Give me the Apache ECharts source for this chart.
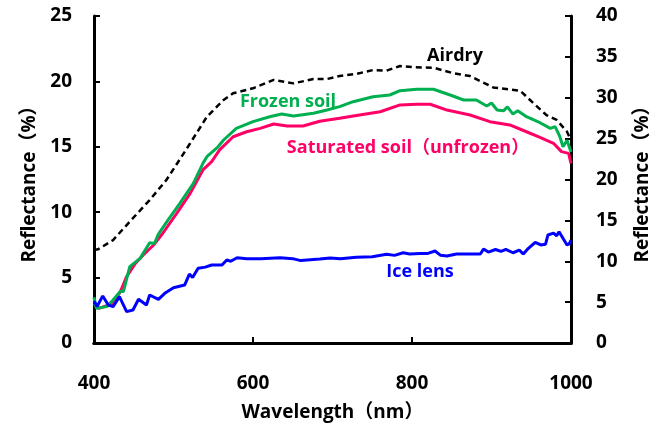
<!DOCTYPE html>
<html><head><meta charset="utf-8">
<script src="https://cdn.jsdelivr.net/npm/echarts@6/dist/echarts.min.js"></script>
<style>html,body{margin:0;padding:0;background:#fff}#c{width:662px;height:423px}</style>
</head><body><div id="c"></div>
<script>
// Wavelength (nm) / reflectance (%)
const airdryWl  = [400,405,424,445,470,491,506,521,542,563,575,600,626,651,676,693,709,730,751,768,785,802,827,852,873,902,936,953,969,982,995,1000];
const airdryVal = [7.1,7.16,7.87,9.28,10.93,12.46,13.86,15.27,17.3,18.58,19.09,19.47,20.11,19.85,20.18,20.18,20.41,20.57,20.87,20.82,21.18,21.08,21.05,20.62,20.41,19.54,19.29,18.32,17.43,17.05,16.15,15.5];

const frozenWl  = [400,403,416,424,433,437,445,458,470,476,481,493,508,525,537,542,556,563,579,600,621,636,651,676,693,709,726,751,772,785,806,827,848,865,881,894,900,907,915,920,927,933,944,961,974,980,986,990,995,1000];
const frozenVal = [3.5,2.65,2.78,3.29,3.93,3.93,5.84,6.47,7.67,7.6,8.33,9.4,10.68,12.21,13.74,14.24,15.0,15.52,16.41,16.92,17.3,17.51,17.35,17.56,17.81,18.07,18.45,18.83,18.96,19.29,19.4,19.4,18.96,18.58,18.58,18.12,18.35,17.81,17.75,18.05,17.5,17.75,17.3,16.84,16.41,16.55,15.77,15.0,15.5,14.6];

const saturatedWl  = [400,406,424,433,441,452,462,475,487,504,521,537,548,558,575,592,609,626,643,663,684,709,734,760,785,806,823,844,873,898,923,944,961,978,988,997,1000];
const saturatedVal = [3.0,2.65,3.03,3.9,5.07,6.09,6.73,7.49,8.43,9.91,11.44,13.23,13.86,14.76,15.77,16.15,16.41,16.74,16.59,16.59,16.95,17.18,17.43,17.68,18.2,18.25,18.25,17.81,17.43,16.92,16.67,16.15,15.72,15.27,14.63,14.5,13.74];

const iceWl  = [400,404,411,418,424,432,441,449,456,466,470,481,489,500,514,520,524,531,540,548,561,567,572,580,592,610,634,650,660,684,697,710,730,750,768,778,789,797,810,820,829,836,844,856,870,886,890,896,905,912,918,927,935,940,945,955,962,968,971,978,982,985,991,995,998,1000];
const iceVal = [3.2,2.8,3.6,2.9,2.78,3.54,2.4,2.52,3.34,2.9,3.67,3.34,3.8,4.23,4.43,5.27,5.0,5.71,5.8,5.96,5.96,6.35,6.25,6.52,6.45,6.45,6.52,6.45,6.3,6.42,6.5,6.45,6.55,6.6,6.78,6.7,6.9,6.8,6.85,6.85,7.03,6.7,6.65,6.8,6.8,6.8,7.19,6.95,7.15,7.0,7.15,6.9,7.1,6.8,7.15,7.7,7.5,7.55,8.26,8.4,8.2,8.51,7.9,7.49,7.6,7.87];

const xTicks = [400,600,800,1000];
const leftTicks = [0,5,10,15,20,25];
const rightTicks = [0,5,10,15,20,25,30,35,40];

function pairs(w, v){ return w.map((x,i)=>[x, v[i]]); }

const FONT = "'Open Sans', 'Noto Sans CJK JP', sans-serif";
const chart = echarts.init(document.getElementById('c'), null, {renderer:'canvas'});
const axisLine = {show:true, lineStyle:{color:'#000', width:3}};
const tick = {show:true, inside:true, length:6, lineStyle:{color:'#000', width:2}};
const lbl = {color:'#000', fontWeight:'bold', fontSize:19, fontFamily:FONT, formatter:v=>String(v)};
const nameStyle = {color:'#000', fontWeight:'bold', fontSize:19, fontFamily:FONT};

chart.setOption({
  animation:false,
  backgroundColor:'#fff',
  grid:{left:94, right:91, top:16, bottom:80, show:false, containLabel:false, outerBoundsMode:'none'},
  xAxis:[
    {type:'value', min:xTicks[0], max:xTicks[xTicks.length-1], interval:200, position:'bottom',
    axisLine:axisLine, axisTick:tick, splitLine:{show:false},
    axisLabel:Object.assign({margin:31}, lbl),
    name:'Wavelength（nm）', nameLocation:'middle', nameGap:60, nameTextStyle:nameStyle},
    {type:'value', min:xTicks[0], max:xTicks[xTicks.length-1], interval:200, position:'top',
    axisLine:axisLine, axisTick:{show:false}, axisLabel:{show:false}, splitLine:{show:false}}
  ],
  yAxis:[
    {type:'value', min:leftTicks[0], max:leftTicks[leftTicks.length-1], interval:5, position:'left',
     axisLine:axisLine, axisTick:tick, splitLine:{show:false},
     axisLabel:Object.assign({margin:22}, lbl),
     name:'Reflectance（%）', nameLocation:'middle', nameGap:55, nameRotate:90, nameTextStyle:nameStyle},
    {type:'value', min:rightTicks[0], max:rightTicks[rightTicks.length-1], interval:5, position:'right',
     axisLine:axisLine, axisTick:tick, splitLine:{show:false},
     axisLabel:Object.assign({margin:25}, lbl),
     name:'Reflectance（%）', nameLocation:'middle', nameGap:62, nameRotate:90, nameTextStyle:nameStyle}
  ],
  series:[
    {name:'Airdry', type:'line', data:pairs(airdryWl, airdryVal), showSymbol:false, smooth:false,
     lineStyle:{color:'#000', width:2.5, type:[6,4]}, z:3},
    {name:'Frozen soil', type:'line', data:pairs(frozenWl, frozenVal), showSymbol:false,
     lineStyle:{color:'#00B050', width:3}, z:4},
    {name:'Saturated soil（unfrozen）', type:'line', data:pairs(saturatedWl, saturatedVal), showSymbol:false,
     lineStyle:{color:'#FF0066', width:3}, z:3},
    {name:'Ice lens', type:'line', data:pairs(iceWl, iceVal), showSymbol:false,
     lineStyle:{color:'#0000FF', width:3}, z:5}
  ],
  graphic:[
    {type:'text', x:455, y:56, style:{text:'Airdry', fill:'#000', font:"bold 18px "+FONT, align:'center', verticalAlign:'middle'}},
    {type:'text', x:288, y:102, style:{text:'Frozen soil', fill:'#00B050', font:"bold 18px "+FONT, align:'center', verticalAlign:'middle'}},
    {type:'text', x:408, y:148, style:{text:'Saturated soil（unfrozen）', fill:'#FF0066', font:"bold 18px "+FONT, align:'center', verticalAlign:'middle'}},
    {type:'text', x:420, y:272, style:{text:'Ice lens', fill:'#0000FF', font:"bold 18px "+FONT, align:'center', verticalAlign:'middle'}}
  ]
});
</script></body></html>
